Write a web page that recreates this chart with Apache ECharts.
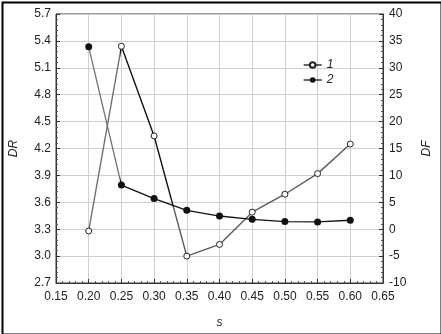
<!DOCTYPE html>
<html>
<head>
<meta charset="utf-8">
<script src="https://cdn.jsdelivr.net/npm/echarts@6/dist/echarts.min.js"></script>
<style>
html,body{margin:0;padding:0;background:#fff;}
#c{width:441px;height:334px;}
</style>
</head>
<body>
<div id="c"></div>
<script>
const sValues = [0.20, 0.25, 0.30, 0.35, 0.40, 0.45, 0.50, 0.55, 0.60];
const drValues = [3.28, 5.34, 4.34, 3.00, 3.13, 3.49, 3.69, 3.92, 4.25];
const dfValues = [33.9, 8.2, 5.7, 3.5, 2.45, 1.84, 1.41, 1.35, 1.66];
const seriesNames = ['1', '2'];

const chart = echarts.init(document.getElementById('c'));
const font = 'Liberation Sans, Arial, sans-serif';
const labelColor = '#222';

const sMin = sValues[0], sMax = sValues[sValues.length - 1];
const off = s => (s - sMin) / (sMax - sMin);
function hardGradient(parts) {
  const stops = [];
  parts.forEach(p => {
    stops.push({offset: off(p[0]), color: p[2]});
    stops.push({offset: off(p[1]), color: p[2]});
  });
  return new echarts.graphic.LinearGradient(0, 0, 1, 0, stops);
}
const gray = '#707070', dark = '#111', mid = '#5a5a5a';

const axisCommon = {
  axisLine: {show: true, onZero: false, lineStyle: {color: '#333', width: 1}},
  axisTick: {show: true, inside: true, length: 4, lineStyle: {color: '#333'}},
  minorTick: {show: true, splitNumber: 5, length: 2, lineStyle: {color: '#555'}},
  splitLine: {show: true, lineStyle: {color: '#d0d0d0', width: 1}},
  axisLabel: {color: labelColor, fontFamily: font, fontSize: 12},
  nameTextStyle: {color: labelColor, fontFamily: font, fontSize: 12, fontStyle: 'italic'}
};

chart.setOption({
  animation: false,
  backgroundColor: '#fff',
  grid: {left: 52, right: 52, top: 14, bottom: 48, show: true, borderColor: '#333', borderWidth: 1},
  legend: {
    left: 298, top: 54, orient: 'vertical', itemGap: 3, itemWidth: 18, itemHeight: 7,
    textStyle: {fontFamily: font, fontSize: 12, fontStyle: 'italic', color: labelColor},
    data: [
      {name: seriesNames[0], lineStyle: {color: dark, width: 1.3}},
      {name: seriesNames[1], lineStyle: {color: dark, width: 1.3}}
    ]
  },
  xAxis: Object.assign({}, axisCommon, {
    type: 'value', min: 0.15, max: 0.65, interval: 0.05,
    name: 's', nameLocation: 'middle', nameGap: 34,
    axisLabel: Object.assign({}, axisCommon.axisLabel, {margin: 8, formatter: v => v.toFixed(2)})
  }),
  yAxis: [
    Object.assign({}, axisCommon, {
      type: 'value', min: 2.7, max: 5.7, interval: 0.3, position: 'left',
      name: 'DR', nameLocation: 'middle', nameGap: 36,
      axisLabel: Object.assign({}, axisCommon.axisLabel, {margin: 5, formatter: v => v.toFixed(1)})
    }),
    Object.assign({}, axisCommon, {
      type: 'value', min: -10, max: 40, interval: 5, position: 'right',
      name: 'DF', nameLocation: 'middle', nameGap: 38,
      splitLine: {show: false},
      axisLabel: Object.assign({}, axisCommon.axisLabel, {margin: 6})
    })
  ],
  series: [
    {
      name: seriesNames[0], type: 'line', yAxisIndex: 0,
      data: sValues.map((s, i) => [s, drValues[i]]),
      symbol: 'circle', symbolSize: 6,
      itemStyle: {color: '#fff', borderColor: '#222', borderWidth: 1},
      lineStyle: {width: 1.4, color: hardGradient([[0.20, 0.25, gray], [0.25, 0.33, dark], [0.33, 0.60, mid]])}
    },
    {
      name: seriesNames[1], type: 'line', yAxisIndex: 1,
      data: sValues.map((s, i) => [s, dfValues[i]]),
      symbol: 'circle', symbolSize: 7,
      itemStyle: {color: dark, borderWidth: 0},
      lineStyle: {width: 1.3, color: hardGradient([[0.20, 0.25, gray], [0.25, 0.60, dark]])}
    }
  ],
  graphic: [{
    type: 'rect', left: 0, top: 0, silent: true, z: 100,
    shape: {x: 1, y: 1, width: 439, height: 332},
    style: {fill: null, stroke: '#000', lineWidth: 2}
  }]
});
</script>
</body>
</html>
